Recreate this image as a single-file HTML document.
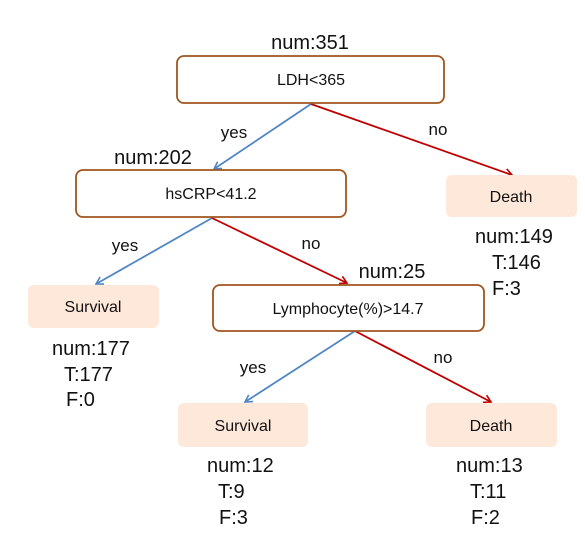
<!DOCTYPE html>
<html><head><meta charset="utf-8"><style>
html,body{margin:0;padding:0;background:#fff;}
svg text{font-family:"Liberation Sans",sans-serif;fill:#111;}
</style></head><body>
<svg width="585" height="549" viewBox="0 0 585 549" xmlns="http://www.w3.org/2000/svg">
<defs>
<marker id="ab" markerWidth="10" markerHeight="10" refX="8" refY="5" orient="auto" markerUnits="userSpaceOnUse"><path d="M1,1 L8,5 L1,9" fill="none" stroke="#4f86c6" stroke-width="1.6"/></marker>
<marker id="ar" markerWidth="10" markerHeight="10" refX="8" refY="5" orient="auto" markerUnits="userSpaceOnUse"><path d="M1,1 L8,5 L1,9" fill="none" stroke="#c00000" stroke-width="1.6"/></marker>
</defs>
<g fill="none" stroke-width="1.8">
<line x1="311" y1="104" x2="214" y2="169" stroke="#4f86c6" marker-end="url(#ab)"/>
<line x1="311" y1="104" x2="512" y2="175" stroke="#c00000" marker-end="url(#ar)"/>
<line x1="212" y1="218" x2="96" y2="284" stroke="#4f86c6" marker-end="url(#ab)"/>
<line x1="212" y1="218" x2="347" y2="283" stroke="#c00000" marker-end="url(#ar)"/>
<line x1="355" y1="331" x2="245" y2="402" stroke="#4f86c6" marker-end="url(#ab)"/>
<line x1="355" y1="331" x2="491" y2="402" stroke="#c00000" marker-end="url(#ar)"/>
</g>
<g fill="#fff" stroke="#a0561e" stroke-width="1.8">
<rect x="177" y="56" width="267" height="47" rx="7"/>
<rect x="76" y="170" width="270" height="47" rx="7"/>
<rect x="213" y="285" width="271" height="46" rx="7"/>
</g>
<g fill="#fde8da">
<rect x="446" y="175" width="131" height="42" rx="6"/>
<rect x="28" y="285" width="131" height="43" rx="6"/>
<rect x="178" y="403" width="130" height="44" rx="6"/>
<rect x="426" y="403" width="131" height="44" rx="6"/>
</g>
<g font-size="16" text-anchor="middle">
<text x="311" y="85">LDH&lt;365</text>
<text x="211" y="199">hsCRP&lt;41.2</text>
<text x="348" y="314">Lymphocyte(%)&gt;14.7</text>
<text x="511" y="202">Death</text>
<text x="93" y="312">Survival</text>
<text x="243" y="431">Survival</text>
<text x="491" y="431">Death</text>
</g>
<g font-size="20" text-anchor="middle">
<text x="310" y="49">num:351</text>
<text x="153" y="164">num:202</text>
<text x="392" y="278">num:25</text>
<text x="234" y="138" font-size="17">yes</text>
<text x="438" y="135" font-size="17">no</text>
<text x="125" y="251" font-size="17">yes</text>
<text x="311" y="249" font-size="17">no</text>
<text x="253" y="373" font-size="17">yes</text>
<text x="443" y="363" font-size="17">no</text>
</g>
<g font-size="20">
<text x="475" y="243">num:149</text>
<text x="492" y="269">T:146</text>
<text x="492" y="295">F:3</text>
<text x="52" y="355">num:177</text>
<text x="64" y="381">T:177</text>
<text x="66" y="406">F:0</text>
<text x="207" y="472">num:12</text>
<text x="218" y="498">T:9</text>
<text x="219" y="524">F:3</text>
<text x="456" y="472">num:13</text>
<text x="470" y="498">T:11</text>
<text x="471" y="524">F:2</text>
</g>
</svg>
</body></html>
